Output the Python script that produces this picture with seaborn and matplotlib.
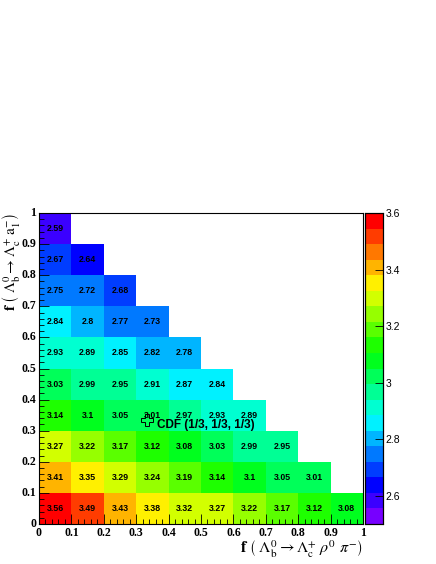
import numpy as np
import matplotlib
matplotlib.use("Agg")
import matplotlib.pyplot as plt
import seaborn as sns
from matplotlib.colors import ListedColormap, hsv_to_rgb
from matplotlib.ticker import MultipleLocator

# chi2-like values per bin, rows from bottom (y bin 0) to top (y bin 9)
row0 = [3.56, 3.49, 3.43, 3.38, 3.32, 3.27, 3.22, 3.17, 3.12, 3.08]
row1 = [3.41, 3.35, 3.29, 3.24, 3.19, 3.14, 3.1, 3.05, 3.01]
row2 = [3.27, 3.22, 3.17, 3.12, 3.08, 3.03, 2.99, 2.95]
row3 = [3.14, 3.1, 3.05, 3.01, 2.97, 2.93, 2.89]
row4 = [3.03, 2.99, 2.95, 2.91, 2.87, 2.84]
row5 = [2.93, 2.89, 2.85, 2.82, 2.78]
row6 = [2.84, 2.8, 2.77, 2.73]
row7 = [2.75, 2.72, 2.68]
row8 = [2.67, 2.64]
row9 = [2.59]
rows = [row0, row1, row2, row3, row4, row5, row6, row7, row8, row9]

tick_labels = ["0", "0.1", "0.2", "0.3", "0.4", "0.5", "0.6", "0.7", "0.8", "0.9", "1"]
cbar_ticks = [2.6, 2.8, 3.0, 3.2, 3.4, 3.6]
cbar_labels = ["2.6", "2.8", "3", "3.2", "3.4", "3.6"]

grid = np.full((10, 10), np.nan)
for j, r in enumerate(rows):
    grid[j, :len(r)] = r
mask = np.isnan(grid)

# ROOT-like rainbow palette, 20 contours
hues = np.linspace(268, 0, 20) / 360.0
cols = [hsv_to_rgb((h, 1.0, 1.0)) for h in hues]
cmap = ListedColormap(cols)

plt.rcParams["mathtext.fontset"] = "stix"

fig = plt.figure(figsize=(4.36, 5.64), dpi=100)
ax = fig.add_axes([0.0894, 0.0709, 0.7432, 0.5514])
cax = fig.add_axes([0.837, 0.0709, 0.041, 0.5514])

sns.heatmap(grid, mask=mask, cmap=cmap, vmin=2.5, vmax=3.6, ax=ax, cbar_ax=cax,
            annot=True, fmt="g",
            annot_kws=dict(color="black", fontsize=6.3, fontweight="bold",
                           family="Liberation Sans"))
ax.invert_yaxis()

ax.set_xlim(0, 10)
ax.set_ylim(0, 10)
ax.set_xticks(range(11))
ax.set_yticks(range(11))
ax.set_xticklabels(tick_labels, rotation=0, family="Liberation Serif",
                   fontweight="bold", fontsize=8.5)
ax.set_yticklabels(tick_labels, rotation=0, family="Liberation Serif",
                   fontweight="bold", fontsize=8.5)
ax.xaxis.set_minor_locator(MultipleLocator(0.2))
ax.yaxis.set_minor_locator(MultipleLocator(0.2))
ax.tick_params(which="both", direction="in", color="black", top=False, right=False)
ax.tick_params(which="major", length=7, width=0.6, pad=2)
ax.tick_params(which="minor", length=3.5, width=0.6)
for s in ax.spines.values():
    s.set_visible(True)
    s.set_linewidth(0.8)
    s.set_color("black")
ax.set_xlabel("")
ax.set_ylabel("")

# CDF point
ax.plot([10 / 3], [10 / 3], marker="P", ms=8, mfc="none", mec="black", mew=0.7)
ax.text(3.64, 3.18, "CDF (1/3, 1/3, 1/3)", fontsize=8.5, fontweight="bold",
        family="Liberation Sans", ha="left", va="center")

cax.set_yticks(cbar_ticks)
cax.set_yticklabels(cbar_labels, family="Liberation Sans", fontsize=7.5)
cax.tick_params(direction="in", length=6, width=0.6, pad=2, right=True, left=False)
for s in cax.spines.values():
    s.set_visible(True)
    s.set_linewidth(0.8)

fig.text(0.8326, 0.028,
         r"$\mathbf{f}\ \left(\ \Lambda_{\mathrm{b}}^{0} \rightarrow \Lambda_{\mathrm{c}}^{+}\ \rho^{0}\ \pi^{-} \right)$",
         fontsize=11.5, ha="right", va="center")
fig.text(0.026, 0.6223,
         r"$\mathbf{f}\ \left(\ \Lambda_{\mathrm{b}}^{0} \rightarrow \Lambda_{\mathrm{c}}^{+}\ \mathrm{a}_{1}^{-} \right)$",
         fontsize=11, ha="center", va="top", rotation=90)

fig.savefig("out.png", dpi=100)
